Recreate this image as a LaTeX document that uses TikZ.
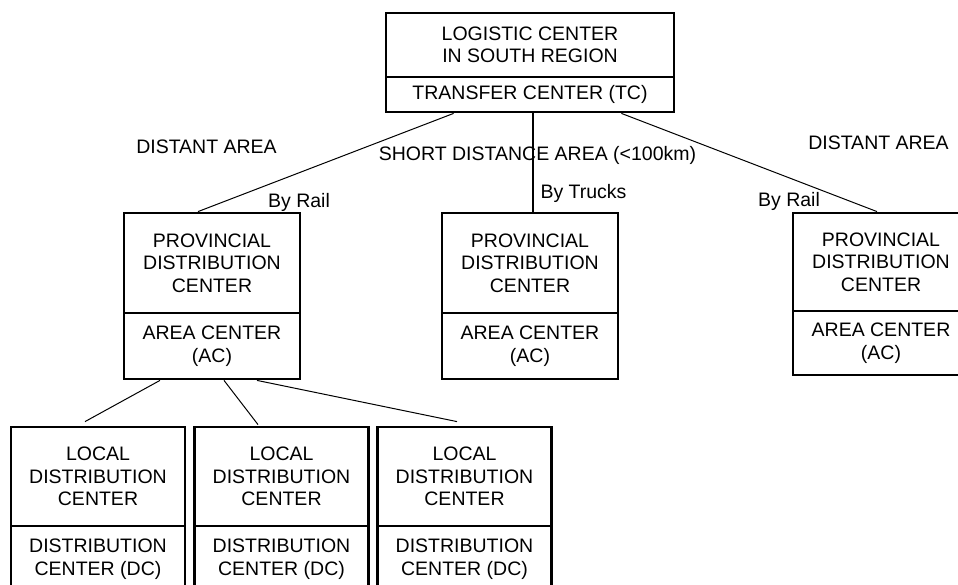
\documentclass[tikz,border=0pt]{standalone}
\usepackage{fontspec}
\setmainfont{Liberation Sans}
\tikzset{
  txt/.style={font=\fontsize{19.5}{22.5}\selectfont},
  part/.style={txt, draw, line width=2.8pt, align=center, inner sep=0pt},
  prov/.style={part, minimum width=176pt},
  locl/.style={part, minimum width=174pt},
  lbl/.style={txt, inner sep=0pt, anchor=base},
  conn/.style={line width=1pt},
  trunk/.style={line width=1.8pt}
}
\begin{document}
\begin{tikzpicture}[x=1pt, y=-1pt]
  \path[use as bounding box] (0,0) rectangle (958,585);
  \clip (0,0) rectangle (958,585);

  % logistic center (top)
  \node[part, minimum width=288pt, minimum height=64pt] (lc) at (530,45) {LOGISTIC CENTER\\IN SOUTH REGION};
  \node[part, minimum width=288pt, minimum height=35pt] (tc) at (530,94.5) {TRANSFER CENTER (TC)};

  % provincial distribution centers
  \node[prov, minimum height=100pt] (pl) at (212,263) {PROVINCIAL\\DISTRIBUTION\\CENTER};
  \node[prov, minimum height=66pt] (acl) at (212,346) {AREA CENTER\\(AC)};
  \node[prov, minimum height=100pt] (pm) at (530,263) {PROVINCIAL\\DISTRIBUTION\\CENTER};
  \node[prov, minimum height=66pt] (acm) at (530,346) {AREA CENTER\\(AC)};
  \node[prov, minimum height=98pt] (pr) at (881,262) {PROVINCIAL\\DISTRIBUTION\\CENTER};
  \node[prov, minimum height=64pt] (acr) at (881,343) {AREA CENTER\\(AC)};

  % local distribution centers
  \node[locl, minimum height=99pt] (l1) at (98,476.5) {LOCAL\\DISTRIBUTION\\CENTER};
  \node[locl, minimum height=66pt] (d1) at (98,559) {DISTRIBUTION\\CENTER (DC)};
  \node[locl, minimum height=99pt] (l2) at (281.5,476.5) {LOCAL\\DISTRIBUTION\\CENTER};
  \node[locl, minimum height=66pt] (d2) at (281.5,559) {DISTRIBUTION\\CENTER (DC)};
  \node[locl, minimum height=99pt] (l3) at (464.5,476.5) {LOCAL\\DISTRIBUTION\\CENTER};
  \node[locl, minimum height=66pt] (d3) at (464.5,559) {DISTRIBUTION\\CENTER (DC)};

  % transport links
  \draw[conn] ([xshift=69pt]tc.south west) -- ([xshift=-14pt]pl.north);
  \draw[trunk] ([xshift=3pt]tc.south) -- ([xshift=3pt]pm.north);
  \draw[conn] ([xshift=-54pt]tc.south east) -- ([xshift=-4pt]pr.north);

  \draw[conn] ([xshift=-52pt]acl.south) -- ([xshift=-13pt,yshift=4pt]l1.north);
  \draw[conn] ([xshift=12pt]acl.south) -- ([xshift=-23.5pt,yshift=1pt]l2.north);
  \draw[conn] ([xshift=45pt]acl.south) -- ([xshift=-7.5pt,yshift=4pt]l3.north);

  % area and transport labels
  \node[lbl] (dal) at (206.5,154) {DISTANT AREA};
  \node[lbl] (sda) at (537.5,160.7) {SHORT DISTANCE AREA (<100km)};
  \node[lbl] (dar) at (878.5,150) {DISTANT AREA};
  \node[lbl] (brl) at (299,208) {By Rail};
  \node[lbl] (btr) at (583.5,198.3) {By Trucks};
  \node[lbl] (brr) at (789,206.7) {By Rail};
\end{tikzpicture}
\end{document}
